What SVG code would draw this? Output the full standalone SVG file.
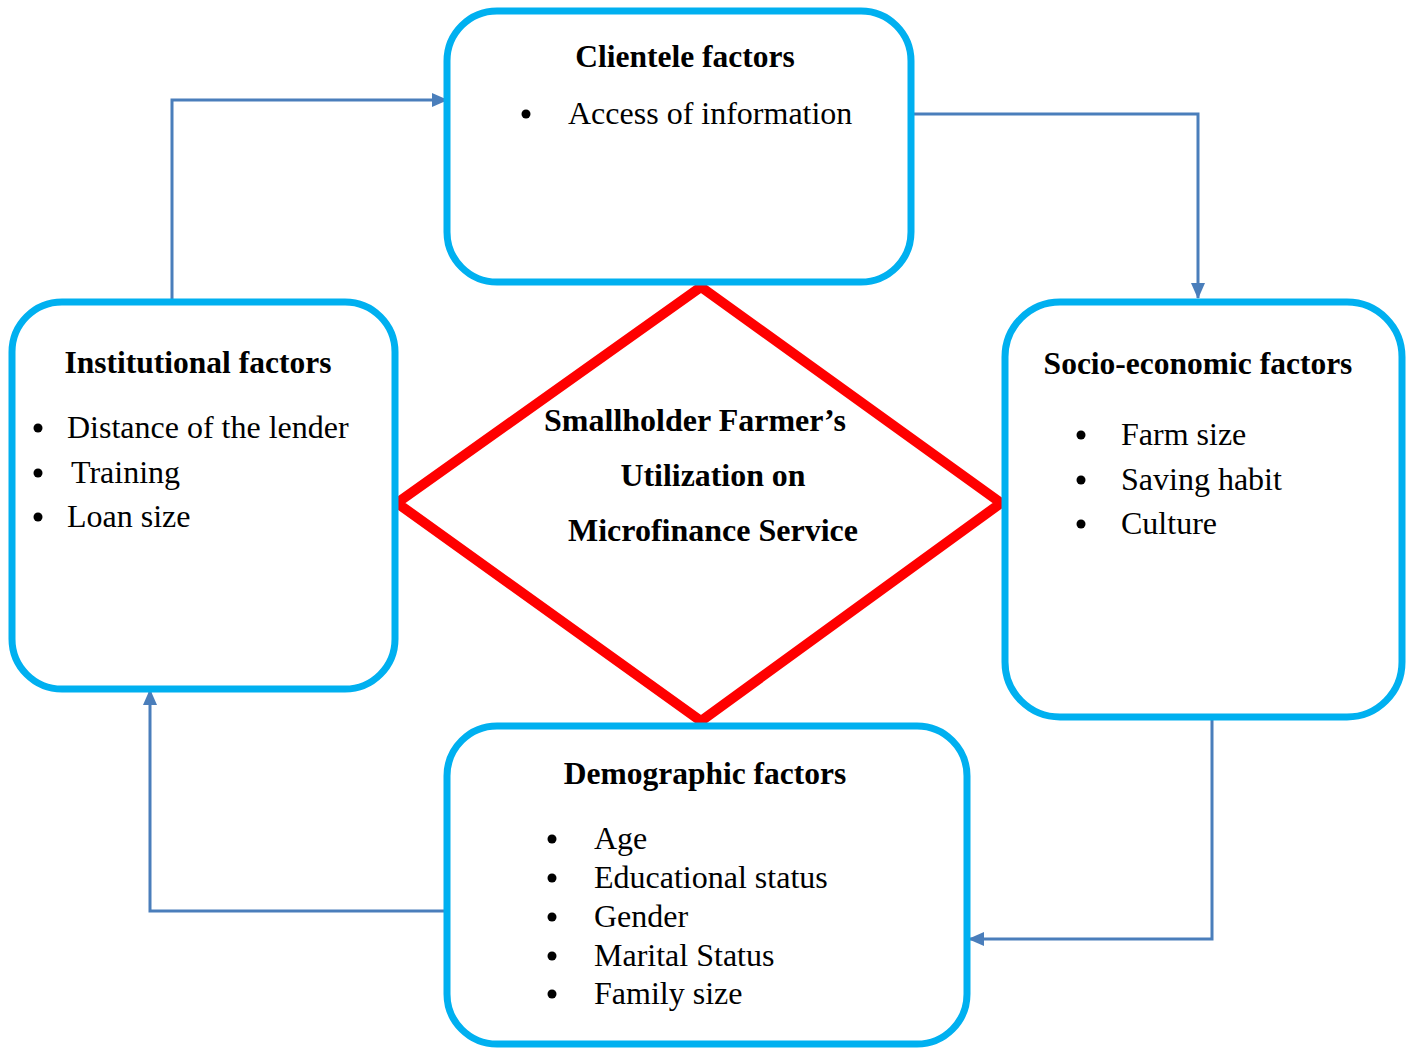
<svg xmlns="http://www.w3.org/2000/svg" width="1410" height="1048" viewBox="0 0 1410 1048">
<defs>
<style>
.box{fill:#fff;stroke:#00b0f0;stroke-width:7}
.dia{fill:none;stroke:#ff0000;stroke-width:10;stroke-linejoin:miter}
.con{fill:none;stroke:#4a7ebb;stroke-width:3}
.t{font-family:"Liberation Serif","Times New Roman",serif;font-size:32px;fill:#000}
.b{font-weight:bold;font-size:31.5px}
.c{font-weight:bold;font-size:32px}
.dot{fill:#000}
</style>
<marker id="ahs" markerWidth="16" markerHeight="16" refX="15" refY="8" orient="auto" markerUnits="userSpaceOnUse" viewBox="0 0 16 16">
<path d="M0,1 L16,8 L0,15 z" fill="#4a7ebb"/>
</marker>
</defs>
<rect width="1410" height="1048" fill="#fff"/>
<g id="connectors">
<polyline class="con" points="172,300 172,100 447,100" marker-end="url(#ahs)"/>
<polyline class="con" points="914,114 1198,114 1198,298" marker-end="url(#ahs)"/>
<polyline class="con" points="1212,717 1212,939 969,939" marker-end="url(#ahs)"/>
<polyline class="con" points="447,911 150,911 150,690" marker-end="url(#ahs)"/>
</g>
<g id="center">
<polygon class="dia" points="701,287 1001,503 701,721 397,503"/>
<text class="t c" x="695" y="431" text-anchor="middle" textLength="302" lengthAdjust="spacingAndGlyphs">Smallholder Farmer’s</text>
<text class="t c" x="713" y="486" text-anchor="middle" textLength="185" lengthAdjust="spacingAndGlyphs">Utilization on</text>
<text class="t c" x="713" y="541" text-anchor="middle" textLength="290" lengthAdjust="spacingAndGlyphs">Microfinance Service</text>
</g>
<g id="clientele">
<rect class="box" x="447" y="11" width="464" height="271" rx="50"/>
<text class="t b" x="685" y="67" text-anchor="middle">Clientele factors</text>
<circle class="dot" cx="526" cy="114" r="4.5"/>
<text class="t" x="568" y="124">Access of information</text>
</g>
<g id="institutional">
<rect class="box" x="12" y="302" width="383" height="387" rx="50"/>
<text class="t b" x="198" y="373" text-anchor="middle">Institutional factors</text>
<circle class="dot" cx="38" cy="428" r="4.5"/>
<text class="t" x="67" y="438">Distance of the lender</text>
<circle class="dot" cx="38" cy="473" r="4.5"/>
<text class="t" x="71" y="483">Training</text>
<circle class="dot" cx="38" cy="517" r="4.5"/>
<text class="t" x="67" y="527">Loan size</text>
</g>
<g id="socio">
<rect class="box" x="1005" y="302" width="397" height="415" rx="55"/>
<text class="t b" x="1198" y="374" text-anchor="middle">Socio-economic factors</text>
<circle class="dot" cx="1081" cy="435" r="4.5"/>
<text class="t" x="1121" y="445">Farm size</text>
<circle class="dot" cx="1081" cy="480" r="4.5"/>
<text class="t" x="1121" y="490">Saving habit</text>
<circle class="dot" cx="1081" cy="524" r="4.5"/>
<text class="t" x="1121" y="534">Culture</text>
</g>
<g id="demographic">
<rect class="box" x="447" y="726" width="520" height="318" rx="50"/>
<text class="t b" x="705" y="784" text-anchor="middle">Demographic factors</text>
<circle class="dot" cx="552" cy="839" r="4.5"/>
<text class="t" x="594" y="849">Age</text>
<circle class="dot" cx="552" cy="878" r="4.5"/>
<text class="t" x="594" y="888">Educational status</text>
<circle class="dot" cx="552" cy="917" r="4.5"/>
<text class="t" x="594" y="927">Gender</text>
<circle class="dot" cx="552" cy="956" r="4.5"/>
<text class="t" x="594" y="966">Marital Status</text>
<circle class="dot" cx="552" cy="994" r="4.5"/>
<text class="t" x="594" y="1004">Family size</text>
</g>
</svg>
